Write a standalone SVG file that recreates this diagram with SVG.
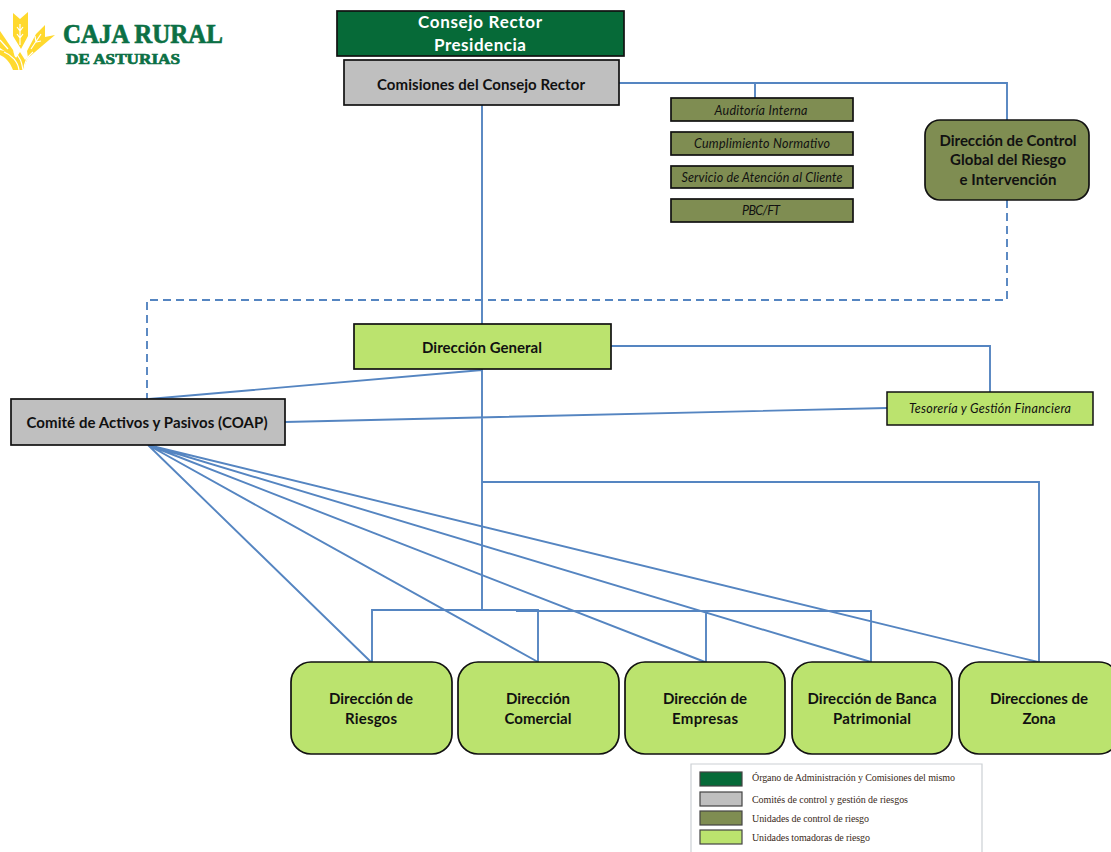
<svg xmlns="http://www.w3.org/2000/svg" width="1111" height="852" viewBox="0 0 1111 852">
<style>
text{font-family:"Lato","Open Sans",sans-serif;text-anchor:middle;fill:#111}
.box{stroke:#111;stroke-width:1.7}
.dg{fill:#066a38}.gy{fill:#bfbfbf}.ol{fill:#7f8d52}.lg{fill:#bbe36e}
.b{font-weight:700;font-size:15px}
.w16{font-weight:700;font-size:17px;fill:#fff}
.i{font-style:italic;font-size:12.5px}
.c{fill:none;stroke:#5585c1;stroke-width:1.9}
.l{font-family:"Liberation Serif",serif;font-size:10px;text-anchor:start;fill:#3a2a20}
.sw{stroke:#444;stroke-width:1.2}
.lt{font-family:"Liberation Serif",serif;font-weight:700;fill:#0b7045;stroke:#0b7045;stroke-width:.7;text-anchor:start}
.w{fill:#ffd92e}
.gap{fill:none;stroke:#fff;stroke-width:1.2}
</style>
<g id="logo">
<path class="w" d="M13 13L20 19L28 12V36L21 49L13 36Z"/>
<path class="w" d="M55 35L45 37L45 25L36 34L27 51L28 58L42 46Z"/>
<path class="w" d="M0 31L13 50L15 58L0 48Z"/>
<path class="w" d="M0 50C12 52 21 60 24 70H13C10 62 5 57 0 55Z"/>
<path class="w" d="M24 70C25 62 28 57 33 53L25 60L20 52L16 58Z"/>
<path class="gap" d="M20 24V45M17 27L20 31L23 27M17 34L20 38L23 34M41 34L31 49M35 36L36 42L41 41M0 40L8 49M4 52C12 55 18 62 19 70M14 52C21 57 22 64 23 70M24 70C24 62 27 57 33 52"/>
<text class="lt" x="63" y="43" font-size="27.5" textLength="160" lengthAdjust="spacingAndGlyphs">CAJA RURAL</text>
<text class="lt" x="66" y="64" font-size="15.5" textLength="114" lengthAdjust="spacingAndGlyphs">DE ASTURIAS</text>
</g>
<g id="connectors">
<path class="c" d="M482 105V609M619 83H1007V120M755 83V98M611 346H990V392M482 482H1039V662M372 662V610H538V662M516 611H871V662M706 611V662M149 399L482 370M285 422L887 408M148 445L371 662M148 445L538 662M148 445L705 662M148 445L871 662M148 445L1038 662"/>
<path class="c" stroke-dasharray="8 5" d="M1007 200V300H147V399"/>
</g>
<g id="consejo"><rect class="box dg" x="337" y="11" width="287" height="45"/><text class="w16" style="fill:#fff" x="480" y="28" textLength="124">Consejo  Rector</text><text class="w16" style="fill:#fff" x="480" y="51" textLength="92">Presidencia</text></g>
<g id="comisiones"><rect class="box gy" x="344" y="60" width="275" height="45"/><text class="b" x="481" y="90" textLength="208">Comisiones del Consejo Rector</text></g>
<g id="auditoria"><rect class="box ol" x="671" y="98" width="182" height="23"/><text class="i" x="761" y="115" textLength="93">Auditoría Interna</text></g>
<g id="cumplimiento"><rect class="box ol" x="671" y="132" width="182" height="23"/><text class="i" x="762" y="148" textLength="136">Cumplimiento Normativo</text></g>
<g id="servicio"><rect class="box ol" x="671" y="166" width="182" height="22"/><text class="i" x="762" y="182" textLength="161">Servicio de Atención al Cliente</text></g>
<g id="pbc"><rect class="box ol" x="671" y="199" width="182" height="23"/><text class="i" x="761" y="215" textLength="38">PBC/FT</text></g>
<g id="control"><rect class="box ol" x="925" y="120" width="164" height="80" rx="15"/><text class="b" x="1008" y="146" textLength="137">Dirección de Control</text><text class="b" x="1008" y="165" textLength="116">Global del Riesgo</text><text class="b" x="1008" y="185" textLength="97">e Intervención</text></g>
<g id="general"><rect class="box lg" x="354" y="324" width="257" height="45"/><text class="b" x="482" y="353" textLength="120">Dirección General</text></g>
<g id="tesoreria"><rect class="box lg" x="887" y="392" width="206" height="33" style="stroke-width:1.5"/><text class="i" x="990" y="413" textLength="162">Tesorería y Gestión Financiera</text></g>
<g id="coap"><rect class="box gy" x="11" y="399" width="274" height="46"/><text class="b" x="147" y="428" textLength="241">Comité de Activos y Pasivos (COAP)</text></g>
<g id="riesgos"><rect class="box lg" x="291" y="662" width="161" height="92" rx="20"/><text class="b" x="371" y="704" textLength="84">Dirección de</text><text class="b" x="371" y="724" textLength="52">Riesgos</text></g>
<g id="comercial"><rect class="box lg" x="458" y="662" width="161" height="92" rx="20"/><text class="b" x="538" y="704" textLength="64">Dirección</text><text class="b" x="538" y="724" textLength="67">Comercial</text></g>
<g id="empresas"><rect class="box lg" x="625" y="662" width="160" height="92" rx="20"/><text class="b" x="705" y="704" textLength="84">Dirección de</text><text class="b" x="705" y="724" textLength="66">Empresas</text></g>
<g id="banca"><rect class="box lg" x="792" y="662" width="160" height="92" rx="20"/><text class="b" x="872" y="704" textLength="129">Dirección de Banca</text><text class="b" x="872" y="724" textLength="78">Patrimonial</text></g>
<g id="zona"><rect class="box lg" x="959" y="662" width="160" height="92" rx="20"/><text class="b" x="1039" y="704" textLength="98">Direcciones de</text><text class="b" x="1039" y="724" textLength="33">Zona</text></g>
<g id="legend">
<path d="M691 852V764H982V852" fill="none" stroke="#ccd0d4" stroke-width="1.2"/>
<rect class="sw dg" x="700" y="772" width="42" height="14"/><text class="l" x="752" y="781" textLength="203">Órgano de Administración  y Comisiones  del mismo</text>
<rect class="sw gy" x="700" y="792" width="42" height="14"/><text class="l" x="752" y="803" textLength="156">Comités  de control y gestión  de riesgos</text>
<rect class="sw ol" x="700" y="811" width="42" height="14"/><text class="l" x="752" y="822" textLength="117">Unidades  de control  de riesgo</text>
<rect class="sw lg" x="700" y="830" width="42" height="14"/><text class="l" x="752" y="841" textLength="118">Unidades  tomadoras  de riesgo</text>
</g>
</svg>
